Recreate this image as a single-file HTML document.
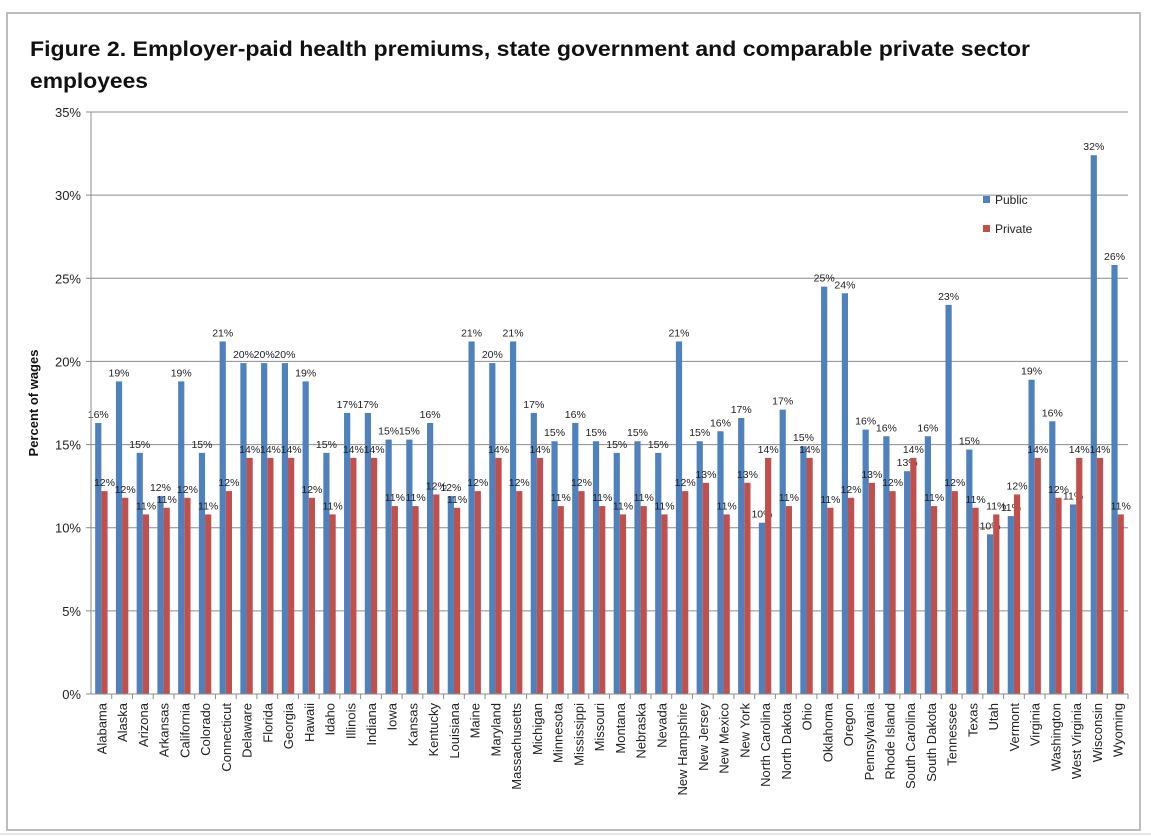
<!DOCTYPE html>
<html><head><meta charset="utf-8"><style>
body{margin:0;background:#fff;}
svg{display:block;font-family:"Liberation Sans",sans-serif;}
</style></head><body>
<svg id="chart" width="1151" height="837" viewBox="0 0 1151 837">
<rect x="7" y="13" width="1133" height="817" fill="#fff" stroke="#bdbdbd" stroke-width="2"/>
<line x1="0" y1="834" x2="1151" y2="834" stroke="#e6e6e6" stroke-width="2"/>
<text x="30" y="56" font-size="21" font-weight="bold" fill="#111" textLength="1000" lengthAdjust="spacingAndGlyphs">Figure 2. Employer-paid  health premiums, state government and comparable  private sector</text>
<text x="30" y="88" font-size="21" font-weight="bold" fill="#111" textLength="118" lengthAdjust="spacingAndGlyphs">employees</text>
<text transform="translate(38,403) rotate(-90)" text-anchor="middle" font-size="13" font-weight="bold" fill="#111">Percent of wages</text>
<g id="grid"></g><g id="bars"></g><g id="axes"></g>
<g>
<rect x="983" y="196" width="7" height="7" fill="#4f81bd"/>
<text x="995" y="204" font-size="12" fill="#222">Public</text>
<rect x="983" y="225" width="7" height="7" fill="#c0504d"/>
<text x="995" y="233" font-size="12" fill="#222">Private</text>
</g>
</svg>
<script>
const states = ["Alabama","Alaska","Arizona","Arkansas","California","Colorado","Connecticut","Delaware","Florida","Georgia","Hawaii","Idaho","Illinois","Indiana","Iowa","Kansas","Kentucky","Louisiana","Maine","Maryland","Massachusetts","Michigan","Minnesota","Mississippi","Missouri","Montana","Nebraska","Nevada","New Hampshire","New Jersey","New Mexico","New York","North Carolina","North Dakota","Ohio","Oklahoma","Oregon","Pennsylvania","Rhode Island","South Carolina","South Dakota","Tennessee","Texas","Utah","Vermont","Virginia","Washington","West Virginia","Wisconsin","Wyoming"];
const publicVals = [16.3,18.8,14.5,11.9,18.8,14.5,21.2,19.9,19.9,19.9,18.8,14.5,16.9,16.9,15.3,15.3,16.3,11.9,21.2,19.9,21.2,16.9,15.2,16.3,15.2,14.5,15.2,14.5,21.2,15.2,15.8,16.6,10.3,17.1,14.9,24.5,24.1,15.9,15.5,13.4,15.5,23.4,14.7,9.6,10.7,18.9,16.4,11.4,32.4,25.8];
const privateVals = [12.2,11.8,10.8,11.2,11.8,10.8,12.2,14.2,14.2,14.2,11.8,10.8,14.2,14.2,11.3,11.3,12.0,11.2,12.2,14.2,12.2,14.2,11.3,12.2,11.3,10.8,11.3,10.8,12.2,12.7,10.8,12.7,14.2,11.3,14.2,11.2,11.8,12.7,12.2,14.2,11.3,12.2,11.2,10.8,12.0,14.2,11.8,14.2,14.2,10.8];
const yTicks = [0,5,10,15,20,25,30,35];

const NS="http://www.w3.org/2000/svg";
const X0=91, X1=1128, Y0=694, Y1=112, YMAX=35;
const slot=(X1-X0)/states.length;
const y=v=>Y0-(v/YMAX)*(Y0-Y1);
const xg=i=>X0+i*slot;
function mk(tag,parent,attrs){const e=document.createElementNS(NS,tag);for(const k in attrs)e.setAttribute(k,attrs[k]);parent.appendChild(e);return e;}
const grid=document.getElementById('grid'),bars=document.getElementById('bars'),axes=document.getElementById('axes');
yTicks.forEach(t=>{
  if(t>0){const g=mk('line',grid,{x1:X0,x2:X1,y1:y(t),y2:y(t),stroke:'#8c8c8c','stroke-width':1});
  
  }
  const tk=mk('line',axes,{x1:X0-5,x2:X0,y1:y(t),y2:y(t),stroke:'#8c8c8c'});
  
  
  const lb=mk('text',axes,{x:X0-10,y:y(t)+5,'text-anchor':'end','font-size':13,fill:'#222'});
  lb.textContent=t+'%';
  
  
});
const ya=mk('line',axes,{x1:X0,x2:X0,y1:Y1,y2:Y0,stroke:'#8c8c8c'});


const xa=mk('line',axes,{x1:X0,x2:X1,y1:Y0,y2:Y0,stroke:'#8c8c8c'});


const bw=6.2;
states.forEach((s,i)=>{
  const gx=xg(i), c=gx+slot/2;
  const tk=mk('line',axes,{x1:gx+slot,x2:gx+slot,y1:Y0,y2:Y0+5,stroke:'#8c8c8c'});
  
  
  [[publicVals[i],'#4f81bd',c-bw,'public'],[privateVals[i],'#c0504d',c,'private']].forEach(([v,col,bx,nm])=>{
    const r=mk('rect',bars,{x:bx,y:y(v),width:bw,height:Y0-y(v),fill:col});
    
    
    const t=mk('text',bars,{x:bx+bw/2,y:y(v)-5,'text-anchor':'middle','font-size':10.5,fill:'#222'});
    t.textContent=Math.round(v)+'%';
    
    
  });
  const l=mk('text',axes,{transform:`translate(${c+5},${Y0+9}) rotate(-90)`,'text-anchor':'end','font-size':13,fill:'#222'});
  l.textContent=s;
  
  
});
</script>
</body></html>
